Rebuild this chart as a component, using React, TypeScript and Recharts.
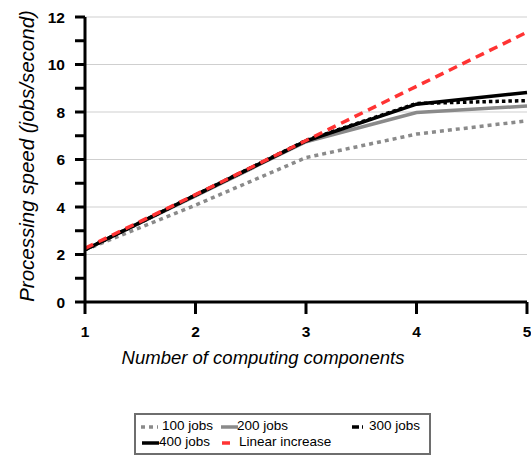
import React from 'react';
import { LineChart, Line, XAxis, YAxis, CartesianGrid, Legend } from 'recharts';

const components = [1, 2, 3, 4, 5];
const jobs100 = [2.2, 4.08, 6.08, 7.07, 7.63];
const jobs200 = [2.2, 4.47, 6.75, 7.98, 8.25];
const jobs300 = [2.2, 4.5, 6.8, 8.36, 8.48];
const jobs400 = [2.2, 4.5, 6.78, 8.33, 8.82];
const linearIncrease = [2.26, 4.52, 6.8, 9.08, 11.36];

const xTicks = [1, 2, 3, 4, 5];
const yTicks = [0, 1, 2, 3, 4, 5, 6, 7, 8, 9, 10, 11, 12];
const yLabelTicks = [0, 2, 4, 6, 8, 10, 12];
const gridValues = [2, 4, 6, 8, 10, 12];

const xTitle = 'Number of computing components';
const yTitle = 'Processing speed (jobs/second)';

const seriesNames = ['100 jobs', '200 jobs', '300 jobs', '400 jobs', 'Linear increase'];

const data = components.map((c, i) => ({
  c,
  j100: jobs100[i],
  j200: jobs200[i],
  j300: jobs300[i],
  j400: jobs400[i],
  lin: linearIncrease[i],
}));

const FONT = '"Liberation Sans", Arial, Helvetica, sans-serif';

const series = [
  { key: 'j100', name: seriesNames[0], stroke: '#8a8a8a', width: 3.5, dash: '4 4' },
  { key: 'j200', name: seriesNames[1], stroke: '#8a8a8a', width: 3.5, dash: undefined },
  { key: 'j400', name: seriesNames[3], stroke: '#000000', width: 3.5, dash: undefined },
  { key: 'j300', name: seriesNames[2], stroke: '#000000', width: 3.5, dash: '3.5 3' },
  { key: 'lin', name: seriesNames[4], stroke: '#ff3333', width: 3.5, dash: '9 6' },
];

const YTick = (props: any) => {
  const { x, y, payload } = props;
  if (!yLabelTicks.includes(payload.value)) return <g />;
  return (
    <text x={x} y={y} dy={5.5} textAnchor="end" fontFamily={FONT} fontWeight="bold" fontSize={15.5} fill="#000">
      {payload.value}
    </text>
  );
};

const XTick = (props: any) => {
  const { x, y, payload } = props;
  return (
    <text x={x} y={y} dy={17} textAnchor="middle" fontFamily={FONT} fontWeight="bold" fontSize={15.5} fill="#000">
      {payload.value}
    </text>
  );
};

const legendLayout = [
  { name: seriesNames[0], stroke: '#8a8a8a', dash: '4 4', iconX: 5, iconW: 17, textX: 26, row: 0 },
  { name: seriesNames[1], stroke: '#8a8a8a', dash: undefined, iconX: 85, iconW: 17, textX: 101, row: 0 },
  { name: seriesNames[2], stroke: '#000000', dash: '7 3 3 30', iconX: 216, iconW: 11, textX: 233, row: 0 },
  { name: seriesNames[3], stroke: '#000000', dash: undefined, iconX: 6, iconW: 17, textX: 23, row: 1 },
  { name: seriesNames[4], stroke: '#ff3333', dash: undefined, iconX: 86, iconW: 8, textX: 103, row: 1 },
];

const LegendBox = () => (
  <div
    style={{
      position: 'relative',
      width: 297,
      height: 42,
      boxSizing: 'border-box',
      border: '2px solid #6e6e6e',
      background: '#fff',
      fontFamily: FONT,
      fontSize: 13.5,
      color: '#000',
    }}
  >
    {legendLayout.map((it) => (
      <React.Fragment key={it.name}>
        <svg
          style={{ position: 'absolute', left: it.iconX, top: it.row === 0 ? 10 : 26 }}
          width={it.iconW}
          height={4}
        >
          <line x1={0} y1={2} x2={it.iconW} y2={2} stroke={it.stroke} strokeWidth={3.5} strokeDasharray={it.dash} />
        </svg>
        <span
          style={{
            position: 'absolute',
            left: it.textX,
            top: it.row === 0 ? 3 : 19,
            lineHeight: '16px',
            whiteSpace: 'nowrap',
          }}
        >
          {it.name}
        </span>
      </React.Fragment>
    ))}
  </div>
);

const YTitle = () => (
  <text
    transform="translate(34,156) rotate(-90)"
    textAnchor="middle"
    fontFamily={FONT}
    fontStyle="italic"
    fontSize={20.5}
    fill="#000"
  >
    {yTitle}
  </text>
);

const XTitle = () => (
  <text x={263} y={364} textAnchor="middle" fontFamily={FONT} fontStyle="italic" fontSize={18.5} fill="#000">
    {xTitle}
  </text>
);

export default function App() {
  return (
    <div style={{ position: 'absolute', left: 0, top: 0, background: '#fff' }}>
      <LineChart
        width={531}
        height={457}
        data={data}
        margin={{ top: 17, right: 4, bottom: 95, left: 0 }}
      >
        <CartesianGrid horizontal vertical={false} horizontalValues={gridValues} stroke="#cfcfcf" strokeWidth={1} />
        <XAxis
          dataKey="c"
          type="number"
          domain={[1, 5]}
          ticks={xTicks}
          interval={0}
          height={60}
          axisLine={{ stroke: '#000', strokeWidth: 3 }}
          tickLine={{ stroke: '#000', strokeWidth: 3 }}
          tickSize={12}
          tickMargin={6}
          tick={<XTick />}
          label={{ content: () => <XTitle /> }}
        />
        <YAxis
          type="number"
          domain={[0, 12]}
          ticks={yTicks}
          interval={0}
          width={85}
          axisLine={{ stroke: '#000', strokeWidth: 3 }}
          tickLine={{ stroke: '#000', strokeWidth: 3 }}
          tickSize={10}
          tickMargin={10}
          tick={<YTick />}
          label={{ content: () => <YTitle /> }}
        />
        {series.map((s) => (
          <Line
            key={s.key}
            dataKey={s.key}
            name={s.name}
            type="linear"
            stroke={s.stroke}
            strokeWidth={s.width}
            strokeDasharray={s.dash}
            dot={false}
            activeDot={false}
            isAnimationActive={false}
          />
        ))}
        <Legend
          layout="vertical"
          align="center"
          verticalAlign="middle"
          wrapperStyle={{ left: 134, top: 413, width: 297, height: 42 }}
          content={() => <LegendBox />}
        />
      </LineChart>
    </div>
  );
}
